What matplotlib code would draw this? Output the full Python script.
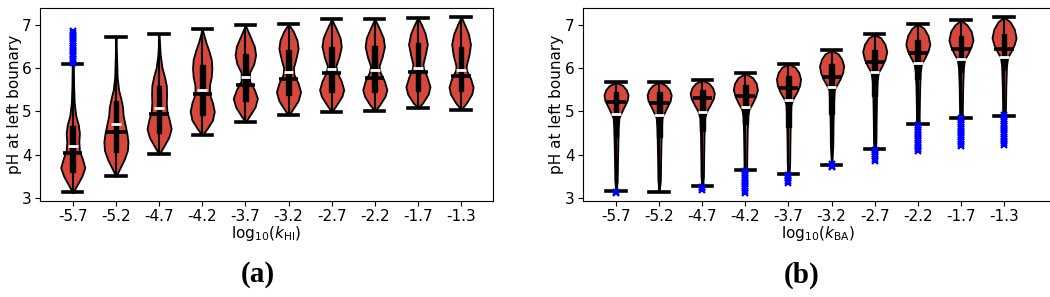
import matplotlib
matplotlib.use('Agg')
import matplotlib.pyplot as plt

tick_labels = ['-5.7', '-5.2', '-4.7', '-4.2', '-3.7', '-3.2', '-2.7', '-2.2', '-1.7', '-1.3']

# ---------------- panel (a): k_HI ----------------
a_prof_ph = [
    [3.12, 3.3, 3.5, 3.7, 3.9, 4.1, 4.3, 4.5, 4.7, 4.9, 5.2, 5.6, 6.0, 6.5, 6.87],
    [3.50, 3.7, 3.9, 4.1, 4.3, 4.5, 4.7, 4.9, 5.1, 5.3, 5.5, 5.8, 6.2, 6.72],
    [4.01, 4.2, 4.4, 4.6, 4.8, 5.0, 5.2, 5.4, 5.6, 5.8, 6.0, 6.3, 6.78],
    [4.45, 4.6, 4.8, 5.0, 5.2, 5.4, 5.6, 5.8, 6.0, 6.2, 6.4, 6.6, 6.91],
    [4.76, 4.9, 5.1, 5.3, 5.5, 5.7, 5.9, 6.1, 6.3, 6.5, 6.7, 6.99],
    [4.91, 5.05, 5.25, 5.45, 5.65, 5.85, 6.0, 6.2, 6.45, 6.65, 6.85, 7.02],
    [4.99, 5.15, 5.35, 5.5, 5.7, 5.9, 6.05, 6.25, 6.5, 6.7, 6.9, 7.13],
    [5.01, 5.15, 5.35, 5.5, 5.7, 5.9, 6.05, 6.25, 6.5, 6.7, 6.9, 7.14],
    [5.08, 5.2, 5.4, 5.57, 5.8, 6.0, 6.1, 6.3, 6.55, 6.8, 7.0, 7.17],
    [5.04, 5.2, 5.4, 5.56, 5.75, 5.95, 6.05, 6.3, 6.55, 6.8, 7.0, 7.19],
]
a_prof_w = [
    [0, 0.35, 0.75, 1.0, 0.8, 0.55, 0.5, 0.55, 0.45, 0.25, 0.12, 0.07, 0.05, 0.04, 0],
    [0, 0.35, 0.7, 0.95, 1.0, 0.9, 0.75, 0.6, 0.55, 0.4, 0.22, 0.1, 0.06, 0],
    [0, 0.4, 0.8, 1.0, 0.85, 0.65, 0.6, 0.62, 0.6, 0.45, 0.25, 0.1, 0],
    [0, 0.4, 0.85, 1.0, 0.85, 0.6, 0.6, 0.75, 0.8, 0.75, 0.55, 0.3, 0],
    [0, 0.35, 0.8, 1.0, 0.75, 0.35, 0.35, 0.7, 0.85, 0.75, 0.45, 0],
    [0, 0.35, 0.8, 1.0, 0.8, 0.45, 0.4, 0.6, 0.8, 0.7, 0.4, 0],
    [0, 0.4, 0.85, 1.0, 0.8, 0.45, 0.35, 0.6, 0.8, 0.7, 0.4, 0],
    [0, 0.4, 0.85, 1.0, 0.8, 0.45, 0.35, 0.6, 0.8, 0.7, 0.4, 0],
    [0, 0.4, 0.85, 1.0, 0.75, 0.45, 0.42, 0.6, 0.78, 0.6, 0.3, 0],
    [0, 0.45, 0.88, 1.0, 0.8, 0.45, 0.42, 0.65, 0.78, 0.6, 0.3, 0],
]
a_median = [4.03, 4.52, 4.95, 5.40, 5.60, 5.75, 5.89, 5.78, 5.91, 5.82]
a_mean = [4.21, 4.71, 5.09, 5.50, 5.80, 5.90, 5.98, 5.96, 6.01, 5.96]
a_q1 = [3.61, 4.07, 4.50, 4.92, 5.23, 5.38, 5.44, 5.46, 5.48, 5.48]
a_q3 = [4.67, 5.23, 5.59, 6.08, 6.32, 6.42, 6.50, 6.52, 6.58, 6.50]
a_whislo = [3.14, 3.50, 4.01, 4.45, 4.76, 4.91, 4.99, 5.01, 5.08, 5.04]
a_whishi = [6.09, 6.72, 6.78, 6.91, 6.99, 7.02, 7.13, 7.14, 7.17, 7.19]
a_fliers = [
    [6.12, 6.17, 6.22, 6.27, 6.32, 6.37, 6.42, 6.47, 6.52, 6.57, 6.62, 6.67, 6.72, 6.77, 6.82, 6.86],
    [], [], [], [], [], [], [], [], [],
]

# ---------------- panel (b): k_BA ----------------
b_prof_ph = [
    [3.12, 3.4, 3.8, 4.2, 4.6, 4.85, 4.95, 5.1, 5.25, 5.38, 5.5, 5.6, 5.67],
    [3.14, 3.4, 3.8, 4.2, 4.6, 4.85, 4.95, 5.1, 5.25, 5.38, 5.5, 5.6, 5.68],
    [3.18, 3.5, 4.0, 4.5, 4.85, 5.0, 5.15, 5.3, 5.42, 5.55, 5.65, 5.72],
    [3.12, 3.5, 4.0, 4.5, 4.9, 5.05, 5.2, 5.35, 5.5, 5.65, 5.78, 5.88],
    [3.35, 3.8, 4.3, 4.8, 5.15, 5.28, 5.45, 5.6, 5.75, 5.9, 6.02, 6.10],
    [3.72, 4.2, 4.7, 5.2, 5.5, 5.6, 5.75, 5.9, 6.05, 6.2, 6.33, 6.41],
    [3.85, 4.3, 4.8, 5.3, 5.7, 5.9, 6.05, 6.2, 6.38, 6.55, 6.7, 6.78],
    [4.08, 4.5, 5.0, 5.5, 5.9, 6.1, 6.25, 6.4, 6.55, 6.75, 6.92, 7.02],
    [4.20, 4.6, 5.1, 5.6, 6.0, 6.2, 6.35, 6.5, 6.65, 6.85, 7.0, 7.11],
    [4.22, 4.6, 5.1, 5.6, 6.05, 6.25, 6.4, 6.55, 6.7, 6.9, 7.07, 7.18],
]
b_prof_w = [
    [0, 0.1, 0.12, 0.15, 0.18, 0.24, 0.4, 0.65, 0.92, 1.0, 0.85, 0.55, 0],
    [0, 0.1, 0.12, 0.15, 0.18, 0.24, 0.4, 0.65, 0.92, 1.0, 0.85, 0.55, 0],
    [0, 0.1, 0.12, 0.15, 0.2, 0.35, 0.65, 0.92, 1.0, 0.85, 0.55, 0],
    [0, 0.1, 0.12, 0.15, 0.2, 0.3, 0.6, 0.85, 1.0, 0.9, 0.6, 0],
    [0, 0.1, 0.12, 0.15, 0.2, 0.35, 0.7, 0.92, 1.0, 0.85, 0.55, 0],
    [0, 0.1, 0.12, 0.16, 0.22, 0.4, 0.7, 0.92, 1.0, 0.85, 0.55, 0],
    [0, 0.1, 0.12, 0.15, 0.2, 0.3, 0.6, 0.85, 1.0, 0.85, 0.5, 0],
    [0, 0.1, 0.12, 0.15, 0.2, 0.3, 0.6, 0.85, 1.0, 0.85, 0.5, 0],
    [0, 0.1, 0.12, 0.15, 0.2, 0.3, 0.6, 0.85, 1.0, 0.85, 0.5, 0],
    [0, 0.1, 0.12, 0.15, 0.2, 0.3, 0.6, 0.85, 1.0, 0.85, 0.5, 0],
]
b_median = [5.21, 5.20, 5.30, 5.36, 5.55, 5.80, 6.15, 6.36, 6.45, 6.44]
b_mean = [4.94, 4.92, 4.98, 5.10, 5.27, 5.56, 5.92, 6.12, 6.21, 6.26]
b_q1 = [4.42, 4.42, 4.55, 4.70, 4.65, 4.95, 5.35, 5.75, 5.90, 5.95]
b_q3 = [5.45, 5.45, 5.50, 5.60, 5.82, 6.10, 6.42, 6.65, 6.75, 6.78]
b_whislo = [3.16, 3.14, 3.28, 3.64, 3.55, 3.77, 4.14, 4.70, 4.85, 4.90]
b_whishi = [5.67, 5.68, 5.72, 5.88, 6.10, 6.41, 6.78, 7.02, 7.11, 7.18]
b_fliers = [
    [3.12, 3.14],
    [],
    [3.18, 3.22, 3.26],
    [3.12, 3.17, 3.22, 3.27, 3.32, 3.37, 3.42, 3.47, 3.52, 3.57, 3.62],
    [3.35, 3.40, 3.45, 3.50, 3.53],
    [3.72, 3.75, 3.78],
    [3.86, 3.91, 3.96, 4.01, 4.06, 4.11],
    [4.08, 4.13, 4.18, 4.23, 4.28, 4.33, 4.38, 4.43, 4.48, 4.53, 4.58, 4.63, 4.68],
    [4.20, 4.25, 4.30, 4.35, 4.40, 4.45, 4.50, 4.55, 4.60, 4.65, 4.70, 4.75, 4.80, 4.84],
    [4.22, 4.27, 4.32, 4.37, 4.42, 4.47, 4.52, 4.57, 4.62, 4.67, 4.72, 4.77, 4.82, 4.87, 4.91],
]

RED = '#d8473b'
W, H = 1050, 297
fig = plt.figure(figsize=(W / 100, H / 100), dpi=100)

ax_a = fig.add_axes([40 / W, (H - 201) / H, 453 / W, 193 / H])
ax_b = fig.add_axes([583 / W, (H - 201) / H, 470 / W, 193 / H])


def draw(ax, prof_ph, prof_w, median, mean, q1, q3, wlo, whi, fliers, xlab, xlim, ylab_x):
    pos = list(range(1, len(median) + 1))
    vpstats = []
    for i in range(len(median)):
        vpstats.append(dict(coords=prof_ph[i], vals=prof_w[i], mean=mean[i],
                            median=median[i], min=min(prof_ph[i]), max=max(prof_ph[i])))
    parts = ax.violin(vpstats, positions=pos, widths=0.56, showmeans=False,
                      showextrema=False, showmedians=False)
    for b in parts['bodies']:
        b.set_facecolor(RED)
        b.set_edgecolor('black')
        b.set_linewidth(1.3)
        b.set_alpha(1)
        b.set_zorder(1)
    stats = []
    for i in range(len(median)):
        stats.append(dict(med=median[i], q1=q1[i], q3=q3[i], whislo=wlo[i],
                          whishi=whi[i], fliers=fliers[i], mean=mean[i]))
    ax.bxp(stats, positions=pos, widths=0.11, capwidths=0.45, patch_artist=True,
           showmeans=False, manage_ticks=False,
           boxprops=dict(facecolor='black', edgecolor='black', linewidth=1, zorder=2),
           whiskerprops=dict(color='black', linewidth=1.5, zorder=2),
           capprops=dict(color='black', linewidth=2.6, zorder=3),
           medianprops=dict(linewidth=0),
           flierprops=dict(marker='x', markeredgecolor='blue', markerfacecolor='blue',
                           markersize=5, markeredgewidth=1.6, zorder=5))
    ax.hlines(median, [p - 0.225 for p in pos], [p + 0.225 for p in pos],
              colors='black', linewidth=2.6, zorder=3)
    ax.hlines(mean, [p - 0.11 for p in pos], [p + 0.11 for p in pos],
              colors='white', linewidth=2.0, zorder=4)
    ax.set_xticks(pos)
    ax.set_xticklabels(tick_labels, fontsize=11)
    ax.set_yticks([3, 4, 5, 6, 7])
    ax.tick_params(axis='y', labelsize=11, pad=2.5)
    ax.tick_params(axis='x', pad=2.5)
    ax.set_xlim(*xlim)
    ax.set_ylim(2.93, 7.39)
    ax.set_ylabel('pH at left bounary', fontsize=11)
    ax.yaxis.set_label_coords(ylab_x, 0.5)
    ax.set_xlabel(xlab, fontsize=11, labelpad=0)


draw(ax_a, a_prof_ph, a_prof_w, a_median, a_mean, a_q1, a_q3, a_whislo, a_whishi,
     a_fliers, r'log$_{10}$($k_{\mathrm{HI}}$)', (0.24, 10.74), (22 - 40) / 453)
draw(ax_b, b_prof_ph, b_prof_w, b_median, b_mean, b_q1, b_q3, b_whislo, b_whishi,
     b_fliers, r'log$_{10}$($k_{\mathrm{BA}}$)', (0.234, 11.135), (564 - 583) / 470)

fig.text(258 / W, 1 - 275 / H, '(a)', ha='center', va='center', fontsize=21,
         fontweight='bold', family='Liberation Serif')
fig.text(802 / W, 1 - 275 / H, '(b)', ha='center', va='center', fontsize=21,
         fontweight='bold', family='Liberation Serif')

fig.savefig('out.png', dpi=100)
